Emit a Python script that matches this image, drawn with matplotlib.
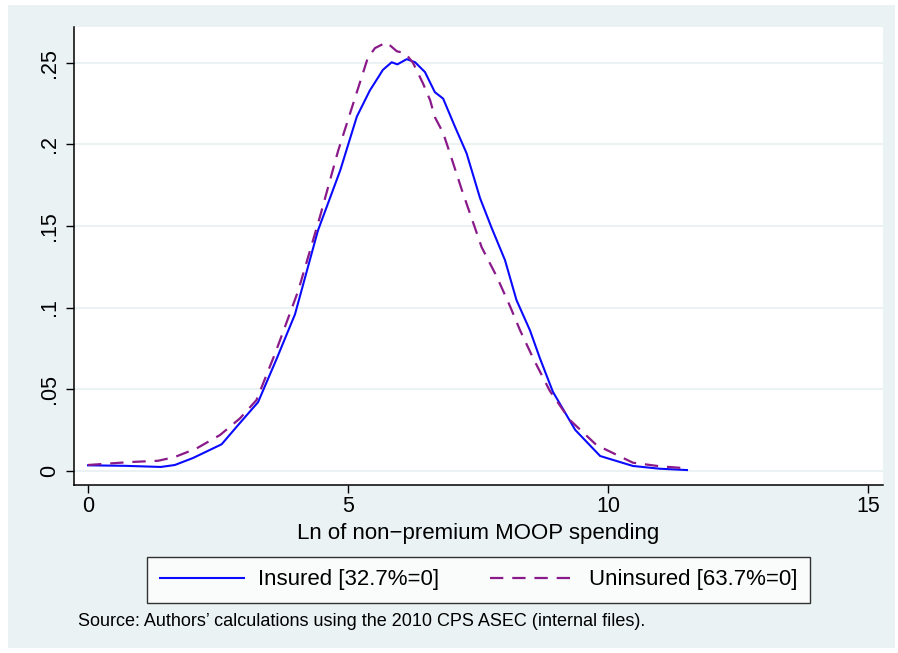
import matplotlib
matplotlib.use("Agg")
import matplotlib.pyplot as plt
from matplotlib.patches import Rectangle

plt.rcParams['font.family'] = ['Liberation Sans', 'DejaVu Sans']

# kernel density
insured_x = [0, 0.7, 1.4, 1.67, 2.02, 2.57, 2.86, 3.27, 3.62, 3.98, 4.42, 4.85,
             5.17, 5.42, 5.58, 5.67, 5.84, 5.95, 6.13, 6.29, 6.48, 6.67, 6.83,
             7.06, 7.28, 7.54, 7.76, 8.02, 8.24, 8.5, 8.69, 8.94, 9.37, 9.85,
             10.48, 11.0, 11.52]
insured_y = [.0033, .003, .0023, .0035, .0078, .0162, .027, .042, .068, .0958,
             .147, .184, .217, .233, .241, .2456, .2503, .249, .2522, .2503,
             .2443, .232, .228, .2106, .1946, .167, .149, .129, .1046, .086,
             .069, .0484, .025, .009, .0029, .0012, .0004]

uninsured_x = [0, 0.81, 1.35, 1.67, 2.09, 2.54, 2.92, 3.24, 3.6, 4.04, 4.46,
               4.81, 5.04, 5.38, 5.52, 5.74, 5.94, 6.1, 6.25, 6.44, 6.58, 6.67,
               6.83, 6.99, 7.19, 7.44, 7.57, 7.86, 8.12, 8.31, 8.56, 8.88,
               9.27, 9.78, 10.48, 11.0, 11.5]
uninsured_y = [.0035, .0053, .0061, .0084, .0137, .0219, .032, .0433, .072,
               .110, .1556, .196, .219, .2529, .259, .2625, .257, .2559, .250,
               .2375, .227, .2167, .207, .1916, .172, .149, .137, .119, .1005,
               .086, .069, .049, .031, .0157, .0049, .0027, .0015]

yticks = [0, .05, .1, .15, .2, .25]
ytick_labels = ['0', '.05', '.1', '.15', '.2', '.25']
xticks = [0, 5, 10, 15]

bg = '#eaf2f3'

fig = plt.figure(figsize=(8.98, 6.53), dpi=100)
fig.patch.set_facecolor('white')
fig.patches.append(Rectangle((8 / 898, 1 - 648 / 653), 887 / 898, 643 / 653,
                             transform=fig.transFigure, facecolor=bg,
                             edgecolor='none', zorder=-10))

ax = fig.add_axes([74 / 898, 1 - 485 / 653, 809 / 898, 458 / 653])
ax.set_facecolor('white')

ax.plot(insured_x, insured_y, color='#0a0aff', lw=1.5,
        label='Insured [32.7%=0]')
ax.plot(uninsured_x, uninsured_y, color='#8a1a8a', lw=1.6,
        linestyle=(0, (6, 4)), label='Uninsured [63.7%=0]')

ax.set_xlim(-0.27, 15.29)
ax.set_ylim(-0.00876, 0.2719)
ax.set_xticks(xticks)
ax.set_xticklabels([str(t) for t in xticks])
ax.set_yticks(yticks)
ax.set_yticklabels(ytick_labels, rotation=90, va='center')

for y in yticks:
    ax.axhline(y, color=bg, lw=1.5, zorder=0)

for s in ['top', 'right']:
    ax.spines[s].set_visible(False)
for s in ['left', 'bottom']:
    ax.spines[s].set_linewidth(1.1)
    ax.spines[s].set_color('black')

ax.tick_params(axis='both', length=6, width=1.0, labelsize=15.5)
ax.tick_params(axis='x', pad=2)
ax.tick_params(axis='y', pad=4)

ax.set_xlabel('Ln of non\u2212premium MOOP spending', fontsize=16, labelpad=4)

leg = fig.legend(loc='center', bbox_to_anchor=(478.5 / 898, 1 - 580 / 653),
                 ncol=2, fontsize=16, frameon=True, fancybox=False,
                 handlelength=3.8, handletextpad=0.63, columnspacing=2.3,
                 borderpad=0.55, borderaxespad=0)
leg.get_frame().set_edgecolor('black')
leg.get_frame().set_linewidth(1.0)
leg.get_frame().set_facecolor('white')

fig.text(78 / 898, 1 - 621 / 653,
         'Source: Authors\u2019 calculations using the 2010 CPS ASEC (internal files).',
         fontsize=13, va='center', ha='left')

fig.savefig('out.png', dpi=100)
